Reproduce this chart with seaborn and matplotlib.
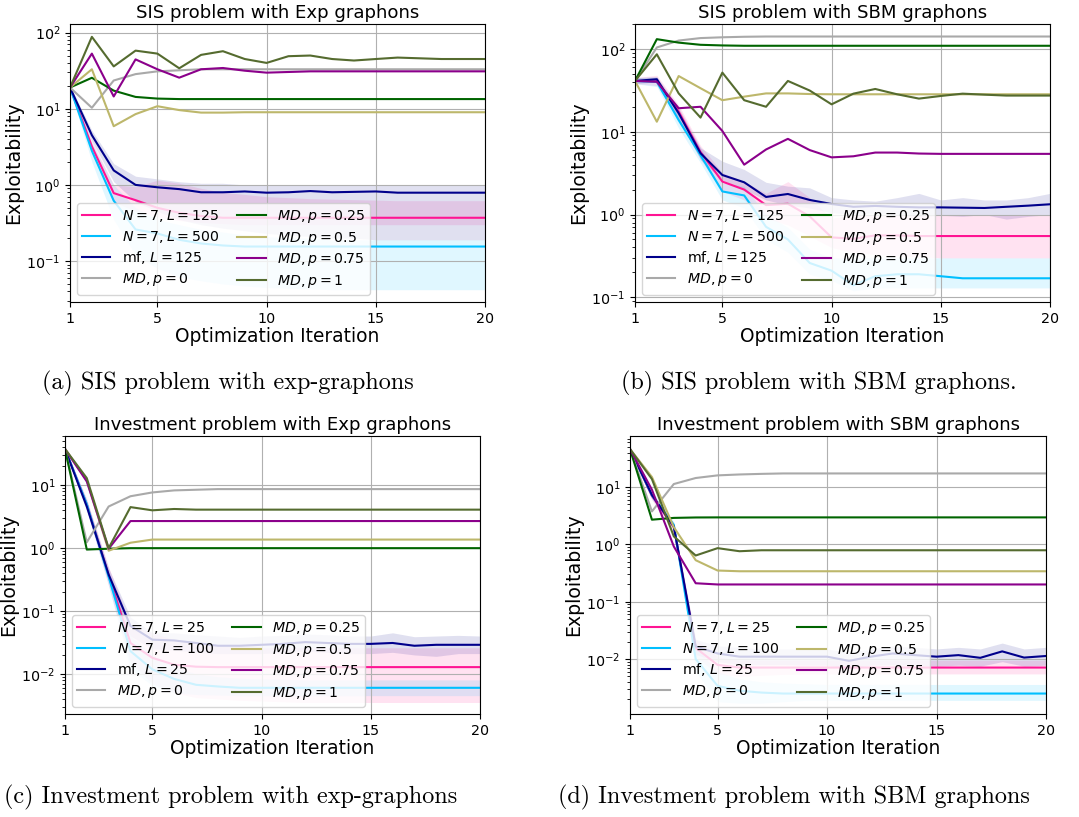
import matplotlib
matplotlib.use('Agg')
import matplotlib.pyplot as plt
import seaborn as sns

# iterations on the x axis
iters = list(range(1, 21))

# ---- (a) SIS problem with Exp graphons ----
a_pink = [19, 3.2, 0.78, 0.63, 0.50, 0.43, 0.39, 0.37, 0.37, 0.37, 0.37, 0.37, 0.37, 0.37, 0.37, 0.37, 0.37, 0.37, 0.37, 0.37]
a_cyan = [19, 2.8, 0.62, 0.26, 0.23, 0.19, 0.17, 0.16, 0.155, 0.155, 0.155, 0.155, 0.155, 0.155, 0.155, 0.155, 0.155, 0.155, 0.155, 0.155]
a_navy = [19, 4.5, 1.55, 1.0, 0.93, 0.88, 0.80, 0.80, 0.82, 0.79, 0.80, 0.83, 0.80, 0.81, 0.82, 0.79, 0.79, 0.79, 0.79, 0.79]
a_gray = [19, 10.3, 23.5, 28.5, 31, 32, 33, 33, 33, 33, 33, 33, 33, 33, 33, 33, 33, 33, 33, 33]
a_green = [19, 25.5, 17.3, 14.3, 13.6, 13.4, 13.4, 13.4, 13.4, 13.4, 13.4, 13.4, 13.4, 13.4, 13.4, 13.4, 13.4, 13.4, 13.4, 13.4]
a_khaki = [19, 33, 5.9, 8.5, 10.8, 9.6, 8.9, 8.9, 9.0, 9.0, 9.0, 9.0, 9.0, 9.0, 9.0, 9.0, 9.0, 9.0, 9.0, 9.0]
a_magenta = [19, 53, 14.5, 44.5, 33, 25.6, 33, 34.3, 31.6, 29.8, 30.4, 31, 31, 31, 31, 31, 31, 31, 31, 31]
a_olive = [19, 88, 36, 58, 53, 34, 51, 57, 45, 40, 49, 50, 45, 43, 45, 47, 46, 45, 45, 45]
# shaded bands (lower / upper)
a_pink_lo = [18, 2.6, 0.6, 0.45, 0.38, 0.34, 0.32, 0.31, 0.3, 0.3, 0.3, 0.3, 0.3, 0.3, 0.3, 0.3, 0.3, 0.3, 0.3, 0.3]
a_pink_hi = [20, 3.8, 1.0, 0.95, 1.15, 1.05, 0.9, 0.8, 0.75, 0.7, 0.68, 0.66, 0.65, 0.64, 0.63, 0.62, 0.62, 0.62, 0.62, 0.62]
a_cyan_lo = [18, 2.0, 0.35, 0.12, 0.08, 0.062, 0.055, 0.05, 0.047, 0.045, 0.044, 0.043, 0.042, 0.042, 0.042, 0.042, 0.042, 0.042, 0.042, 0.042]
a_cyan_hi = [20, 3.5, 1.0, 0.5, 0.35, 0.3, 0.26, 0.24, 0.22, 0.21, 0.2, 0.2, 0.19, 0.19, 0.19, 0.19, 0.19, 0.19, 0.19, 0.19]
a_navy_lo = [18, 3.8, 1.1, 0.6, 0.45, 0.35, 0.3, 0.27, 0.25, 0.23, 0.22, 0.21, 0.2, 0.2, 0.19, 0.19, 0.19, 0.19, 0.19, 0.19]
a_navy_hi = [20, 5.2, 1.9, 1.3, 1.2, 1.1, 1.05, 1.05, 1.0, 1.0, 1.0, 1.0, 1.0, 1.0, 1.0, 1.0, 1.0, 1.0, 1.0, 1.0]

# ---- (b) SIS problem with SBM graphons ----
b_pink = [41, 41, 17.5, 5.7, 2.5, 2.0, 1.3, 1.35, 0.95, 0.53, 0.51, 0.56, 0.56, 0.55, 0.55, 0.55, 0.55, 0.55, 0.55, 0.55]
b_cyan = [41, 40, 13.8, 5.2, 1.9, 1.7, 0.71, 0.5, 0.26, 0.21, 0.14, 0.18, 0.19, 0.19, 0.18, 0.17, 0.17, 0.17, 0.17, 0.17]
b_navy = [41, 43, 16.7, 5.5, 3.0, 2.45, 1.63, 1.77, 1.5, 1.34, 1.24, 1.27, 1.24, 1.22, 1.22, 1.21, 1.2, 1.24, 1.28, 1.33]
b_gray = [41, 104, 126, 135, 138, 140, 141, 141, 141, 141, 141, 141, 141, 141, 141, 141, 141, 141, 141, 141]
b_green = [41, 131, 119, 112, 110, 109, 109, 109, 109, 109, 109, 109, 109, 109, 109, 109, 109, 109, 109, 109]
b_khaki = [41, 13.2, 47, 33.5, 24, 26.5, 29, 29, 28.5, 28.3, 28.3, 28.3, 28.3, 28.3, 28.3, 28.3, 28.3, 28.3, 28.3, 28.3]
b_magenta = [41, 40, 19.2, 20, 10.2, 4.0, 6.1, 8.2, 6.0, 4.9, 5.05, 5.6, 5.6, 5.45, 5.4, 5.4, 5.4, 5.4, 5.4, 5.4]
b_olive = [41, 86, 29, 14.8, 51.7, 24, 20, 41, 31.4, 21.4, 28.8, 32.8, 28.3, 25.1, 27, 28.8, 28, 27.3, 27.3, 27.3]
b_pink_lo = [38, 36, 14, 4.6, 1.9, 1.5, 0.9, 0.75, 0.55, 0.4, 0.35, 0.33, 0.32, 0.31, 0.3, 0.3, 0.3, 0.3, 0.3, 0.3]
b_pink_hi = [45, 48, 21, 6.8, 3.2, 2.5, 1.8, 2.5, 1.6, 0.9, 1.0, 1.0, 1.0, 1.0, 1.0, 1.0, 1.0, 1.0, 1.0, 1.0]
b_cyan_lo = [38, 35, 11, 4.2, 1.5, 1.2, 0.5, 0.35, 0.19, 0.16, 0.12, 0.13, 0.13, 0.13, 0.13, 0.13, 0.13, 0.13, 0.13, 0.13]
b_cyan_hi = [45, 46, 16.5, 6.4, 2.4, 2.2, 1.0, 0.7, 0.38, 0.3, 0.3, 0.3, 0.3, 0.3, 0.3, 0.3, 0.3, 0.3, 0.3, 0.3]
b_navy_lo = [38, 40, 14, 4.6, 2.6, 2.0, 1.5, 1.3, 1.2, 1.05, 1.0, 1.05, 1.0, 0.95, 0.98, 0.95, 1.0, 0.88, 0.95, 1.0]
b_navy_hi = [45, 46, 19.5, 6.4, 4.4, 3.5, 2.45, 2.2, 2.1, 1.6, 1.5, 1.45, 1.6, 1.8, 1.5, 1.6, 1.5, 1.5, 1.6, 1.8]

# ---- (c) Investment problem with Exp graphons ----
c_pink = [38, 5.0, 0.37, 0.031, 0.018, 0.014, 0.013, 0.0128, 0.0128, 0.0128, 0.0128, 0.0128, 0.0128, 0.0128, 0.0128, 0.0128, 0.0128, 0.0128, 0.0128, 0.0128]
c_cyan = [38, 5.0, 0.35, 0.023, 0.0118, 0.0083, 0.0067, 0.0063, 0.006, 0.006, 0.006, 0.006, 0.006, 0.006, 0.006, 0.006, 0.006, 0.006, 0.006, 0.006]
c_navy = [38, 4.6, 0.38, 0.058, 0.035, 0.034, 0.031, 0.028, 0.028, 0.029, 0.030, 0.032, 0.031, 0.030, 0.030, 0.031, 0.028, 0.029, 0.029, 0.029]
c_gray = [38, 1.24, 4.6, 6.7, 7.7, 8.3, 8.5, 8.7, 8.7, 8.7, 8.7, 8.7, 8.7, 8.7, 8.7, 8.7, 8.7, 8.7, 8.7, 8.7]
c_green = [38, 0.95, 0.98, 1.0, 1.0, 1.0, 1.0, 1.0, 1.0, 1.0, 1.0, 1.0, 1.0, 1.0, 1.0, 1.0, 1.0, 1.0, 1.0, 1.0]
c_khaki = [38, 12, 0.91, 1.22, 1.37, 1.37, 1.37, 1.37, 1.37, 1.37, 1.37, 1.37, 1.37, 1.37, 1.37, 1.37, 1.37, 1.37, 1.37, 1.37]
c_magenta = [38, 11.5, 0.98, 2.7, 2.7, 2.7, 2.7, 2.7, 2.7, 2.7, 2.7, 2.7, 2.7, 2.7, 2.7, 2.7, 2.7, 2.7, 2.7, 2.7]
c_olive = [38, 13, 1.0, 4.5, 4.0, 4.2, 4.1, 4.1, 4.1, 4.1, 4.1, 4.1, 4.1, 4.1, 4.1, 4.1, 4.1, 4.1, 4.1, 4.1]
c_pink_lo = [36, 4.0, 0.25, 0.015, 0.007, 0.005, 0.0042, 0.004, 0.0038, 0.0037, 0.0036, 0.0035, 0.0035, 0.0035, 0.0035, 0.0035, 0.0035, 0.0035, 0.0035, 0.0035]
c_pink_hi = [40, 6.0, 0.5, 0.06, 0.045, 0.035, 0.03, 0.028, 0.027, 0.026, 0.026, 0.026, 0.026, 0.026, 0.026, 0.026, 0.026, 0.026, 0.026, 0.026]
c_cyan_lo = [36, 4.0, 0.25, 0.012, 0.0065, 0.005, 0.0047, 0.0046, 0.0045, 0.0045, 0.0045, 0.0045, 0.0045, 0.0045, 0.0045, 0.0045, 0.0045, 0.0045, 0.0045, 0.0045]
c_cyan_hi = [40, 6.0, 0.45, 0.04, 0.02, 0.013, 0.010, 0.009, 0.0085, 0.0083, 0.0082, 0.008, 0.008, 0.008, 0.008, 0.008, 0.008, 0.008, 0.008, 0.008]
c_navy_lo = [36, 3.8, 0.3, 0.04, 0.025, 0.024, 0.022, 0.021, 0.021, 0.021, 0.022, 0.023, 0.022, 0.021, 0.021, 0.022, 0.020, 0.019, 0.021, 0.021]
c_navy_hi = [40, 5.5, 0.48, 0.08, 0.045, 0.045, 0.042, 0.040, 0.038, 0.040, 0.041, 0.043, 0.042, 0.040, 0.040, 0.045, 0.039, 0.040, 0.041, 0.040]

# ---- (d) Investment problem with SBM graphons ----
d_pink = [46, 7.0, 2.0, 0.0156, 0.0079, 0.0071, 0.0071, 0.0071, 0.0071, 0.0071, 0.0071, 0.0071, 0.0071, 0.0071, 0.0071, 0.0071, 0.0071, 0.0071, 0.0071, 0.0071]
d_cyan = [46, 7.2, 2.2, 0.010, 0.0034, 0.0028, 0.0026, 0.0025, 0.0025, 0.0025, 0.0025, 0.0025, 0.0025, 0.0025, 0.0025, 0.0025, 0.0025, 0.0025, 0.0025, 0.0025]
d_navy = [46, 7.3, 2.05, 0.0166, 0.0125, 0.011, 0.011, 0.011, 0.011, 0.011, 0.0093, 0.011, 0.0125, 0.0117, 0.011, 0.0117, 0.0105, 0.0136, 0.0106, 0.0113]
d_gray = [46, 3.76, 11.3, 14.4, 16, 16.6, 17.0, 17.3, 17.3, 17.3, 17.3, 17.3, 17.3, 17.3, 17.3, 17.3, 17.3, 17.3, 17.3, 17.3]
d_green = [46, 2.7, 2.9, 2.95, 2.96, 2.96, 2.96, 2.96, 2.96, 2.96, 2.96, 2.96, 2.96, 2.96, 2.96, 2.96, 2.96, 2.96, 2.96, 2.96]
d_khaki = [46, 15, 2.0, 0.53, 0.35, 0.34, 0.34, 0.34, 0.34, 0.34, 0.34, 0.34, 0.34, 0.34, 0.34, 0.34, 0.34, 0.34, 0.34, 0.34]
d_magenta = [46, 9, 0.92, 0.21, 0.2, 0.2, 0.2, 0.2, 0.2, 0.2, 0.2, 0.2, 0.2, 0.2, 0.2, 0.2, 0.2, 0.2, 0.2, 0.2]
d_olive = [46, 13.8, 1.38, 0.64, 0.86, 0.76, 0.79, 0.79, 0.79, 0.79, 0.79, 0.79, 0.79, 0.79, 0.79, 0.79, 0.79, 0.79, 0.79, 0.79]
d_pink_lo = [44, 6, 1.7, 0.011, 0.0055, 0.005, 0.0052, 0.0054, 0.0055, 0.0055, 0.0055, 0.0055, 0.0055, 0.0055, 0.0055, 0.0055, 0.0055, 0.0055, 0.0055, 0.0055]
d_pink_hi = [48, 8, 2.3, 0.022, 0.011, 0.0095, 0.0095, 0.0095, 0.0095, 0.0095, 0.0095, 0.0095, 0.0095, 0.0095, 0.0095, 0.0095, 0.0095, 0.0095, 0.0095, 0.0095]
d_cyan_lo = [44, 6, 1.9, 0.006, 0.0018, 0.0017, 0.0017, 0.0018, 0.0019, 0.0019, 0.0019, 0.0019, 0.0019, 0.0019, 0.0019, 0.0019, 0.0019, 0.0019, 0.0019, 0.0019]
d_cyan_hi = [48, 8.5, 2.5, 0.016, 0.006, 0.0045, 0.004, 0.0038, 0.0037, 0.0036, 0.0036, 0.0036, 0.0036, 0.0036, 0.0036, 0.0036, 0.0036, 0.0036, 0.0036, 0.0036]
d_navy_lo = [44, 6.5, 1.8, 0.012, 0.009, 0.008, 0.008, 0.008, 0.0078, 0.0078, 0.0068, 0.0078, 0.008, 0.0078, 0.0075, 0.0078, 0.0075, 0.009, 0.0075, 0.0078]
d_navy_hi = [48, 8, 2.3, 0.022, 0.017, 0.016, 0.015, 0.015, 0.015, 0.015, 0.013, 0.015, 0.017, 0.016, 0.015, 0.016, 0.015, 0.019, 0.015, 0.016]

# legend labels
labels_sis = [r'$N=7, L=125$', r'$N=7, L=500$', r'mf, $L=125$', r'$MD, p=0$',
              r'$MD, p=0.25$', r'$MD, p=0.5$', r'$MD, p=0.75$', r'$MD, p=1$']
labels_inv = [r'$N=7, L=25$', r'$N=7, L=100$', r'mf, $L=25$', r'$MD, p=0$',
              r'$MD, p=0.25$', r'$MD, p=0.5$', r'$MD, p=0.75$', r'$MD, p=1$']
colors = ['deeppink', 'deepskyblue', 'darkblue', 'darkgray',
          'darkgreen', 'darkkhaki', 'darkmagenta', 'darkolivegreen']


def draw_panel(ax, title, series, bands, labels, ylim):
    for vals, col, lab in zip(series, colors, labels):
        sns.lineplot(x=iters, y=vals, color=col, label=lab, linewidth=1.5, ax=ax)
    for (lo, hi), col in zip(bands, colors[:3]):
        ax.fill_between(iters, lo, hi, color=col, alpha=0.12, linewidth=0)
    ax.set_yscale('log')
    ax.set_xlim(1, 20)
    ax.set_ylim(*ylim)
    ax.set_xticks([1, 5, 10, 15, 20])
    ax.grid(True, which='major')
    ax.set_title(title, fontsize=13.1, pad=4)
    ax.set_xlabel('Optimization Iteration', fontsize=13.4, labelpad=1)
    ax.set_ylabel('Exploitability', fontsize=13.6, labelpad=2)
    ax.tick_params(labelsize=10.3)
    ax.legend(ncol=2, loc='lower left', fontsize=10.2, columnspacing=1.3,
              handlelength=2.0, borderpad=0.35, labelspacing=0.32)


fig = plt.figure(figsize=(10.79, 8.17), dpi=100)
ax_a = fig.add_axes([0.0649, 0.6304, 0.3846, 0.3403])
ax_b = fig.add_axes([0.5885, 0.6304, 0.3846, 0.3403])
ax_c = fig.add_axes([0.0602, 0.1261, 0.3846, 0.3403])
ax_d = fig.add_axes([0.5839, 0.1261, 0.3855, 0.3403])

draw_panel(ax_a, 'SIS problem with Exp graphons',
           [a_pink, a_cyan, a_navy, a_gray, a_green, a_khaki, a_magenta, a_olive],
           [(a_pink_lo, a_pink_hi), (a_cyan_lo, a_cyan_hi), (a_navy_lo, a_navy_hi)],
           labels_sis, (0.029, 130))
draw_panel(ax_b, 'SIS problem with SBM graphons',
           [b_pink, b_cyan, b_navy, b_gray, b_green, b_khaki, b_magenta, b_olive],
           [(b_pink_lo, b_pink_hi), (b_cyan_lo, b_cyan_hi), (b_navy_lo, b_navy_hi)],
           labels_sis, (0.088, 200))
draw_panel(ax_c, 'Investment problem with Exp graphons',
           [c_pink, c_cyan, c_navy, c_gray, c_green, c_khaki, c_magenta, c_olive],
           [(c_pink_lo, c_pink_hi), (c_cyan_lo, c_cyan_hi), (c_navy_lo, c_navy_hi)],
           labels_inv, (0.0023, 61))
draw_panel(ax_d, 'Investment problem with SBM graphons',
           [d_pink, d_cyan, d_navy, d_gray, d_green, d_khaki, d_magenta, d_olive],
           [(d_pink_lo, d_pink_hi), (d_cyan_lo, d_cyan_hi), (d_navy_lo, d_navy_hi)],
           labels_inv, (0.0011, 78))

# sub-figure captions
cap = dict(fontsize=17.4, family='cmr10', ha='center', va='center')
fig.text(228 / 1079, 1 - 383 / 817, '(a) SIS problem with exp-graphons', **cap)
fig.text(819 / 1079, 1 - 383 / 817, '(b) SIS problem with SBM graphons.', **cap)
fig.text(231 / 1079, 1 - 797 / 817, '(c) Investment problem with exp-graphons', **cap)
fig.text(794 / 1079, 1 - 797 / 817, '(d) Investment problem with SBM graphons', **cap)

fig.savefig('out.png', dpi=100)
